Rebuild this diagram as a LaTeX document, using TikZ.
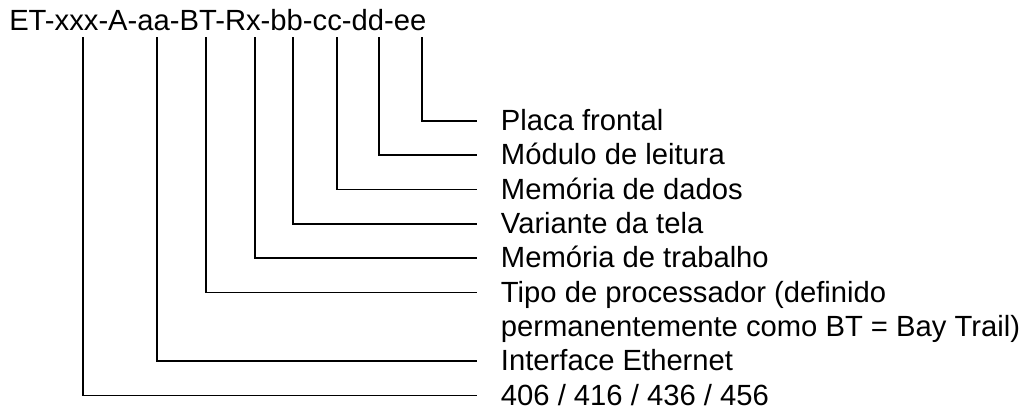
\documentclass[tikz,border=0pt]{standalone}
\usepackage{fontspec}
\setmainfont{Liberation Sans}
\tikzset{
  code/.style={font=\fontsize{21.9}{26}\selectfont, inner sep=0pt, anchor=base west},
  field/.style={font=\fontsize{21.9}{26}\selectfont, inner xsep=18pt, inner ysep=0pt,
    anchor=west, text height=19.3pt, text depth=4.8pt},
  leader/.style={draw, line width=1.3pt}
}

\begin{document}
\begin{tikzpicture}[x=0.75pt,y=-0.75pt]
  \useasboundingbox (0,0) rectangle (1029,405);
  \node[code] (typecode) at (9,30) {ET-xxx-A-aa-BT-Rx-bb-cc-dd-ee};
  % taps below the type code
  \coordinate (xxx) at (83.3,37);
  \coordinate (aa) at (157.3,37);
  \coordinate (bt) at (205.7,37);
  \coordinate (rx) at (255,37);
  \coordinate (bb) at (293.3,37);
  \coordinate (cc) at (336.7,37);
  \coordinate (dd) at (379,37);
  \coordinate (ee) at (421.7,37);
  % meanings
  \node[field] (placa) at (476.7,121) {Placa frontal};
  \node[field] (modulo) at (476.7,155.3) {Módulo de leitura};
  \node[field] (dados) at (476.7,189.6) {Memória de dados};
  \node[field] (tela) at (476.7,224) {Variante da tela};
  \node[field] (trabalho) at (476.7,258.3) {Memória de trabalho};
  \node[field] (cpu) at (476.7,292.6) {Tipo de processador (definido};
  \node[field] (cpu2) at (476.7,326.9) {permanentemente como BT = Bay Trail)};
  \node[field] (ethernet) at (476.7,361.2) {Interface Ethernet};
  \node[field] (serie) at (476.7,395.5) {406 / 416 / 436 / 456};
  \foreach \tap/\what in {ee/placa,dd/modulo,cc/dados,bb/tela,rx/trabalho,bt/cpu,aa/ethernet,xxx/serie}
    \draw[leader] (\tap) |- (\what.west);
\end{tikzpicture}
\end{document}
